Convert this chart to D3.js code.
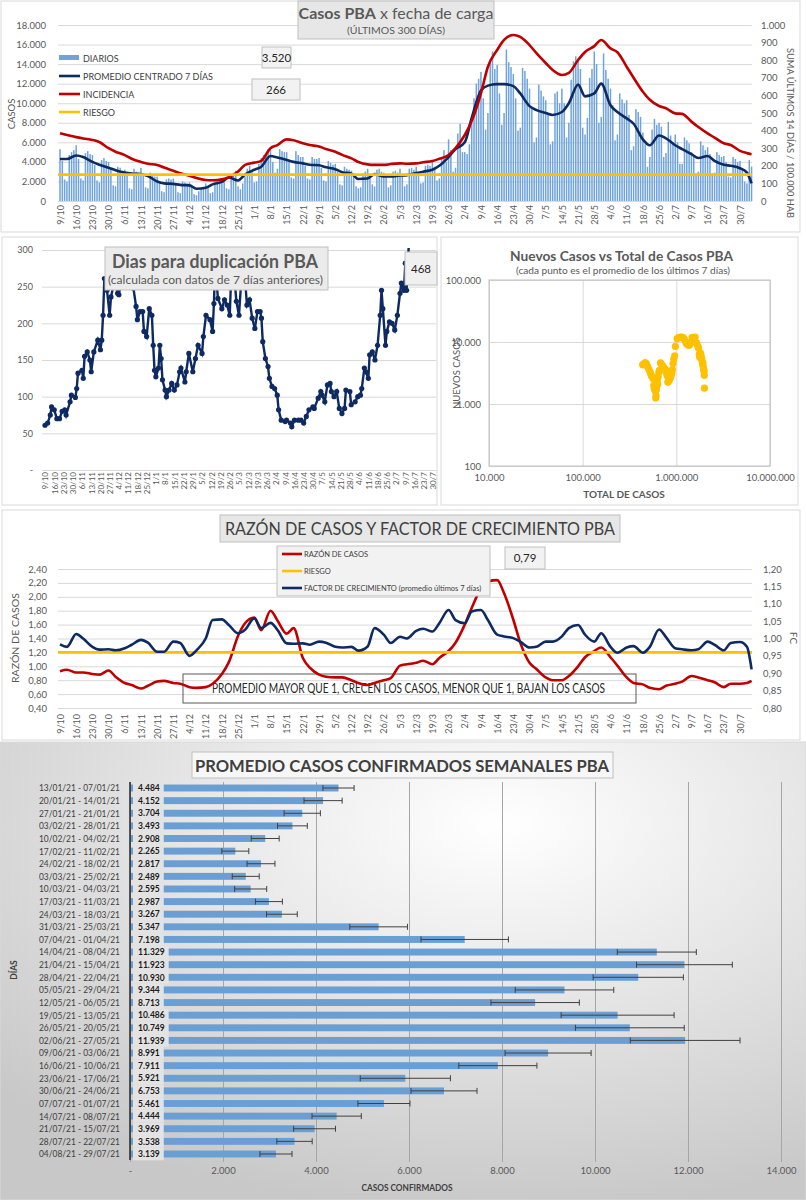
<!DOCTYPE html>
<html>
<head>
<meta charset="utf-8">
<script src="https://cdn.jsdelivr.net/npm/d3@7"></script>
<style>
  body { margin: 0; background: #fff; }
  svg { display: block; font-family: Lato, "Open Sans", sans-serif; }
</style>
</head>
<body>
<svg id="chart" width="806" height="1200"></svg>
<script>
"use strict";

// Weekly tick labels shared by the daily charts (one every 7 days from 9/10)
const weekLabels = ["9/10", "16/10", "23/10", "30/10", "6/11", "13/11", "20/11", "27/11", "4/12", "11/12",
    "18/12", "25/12", "1/1", "8/1", "15/1", "22/1", "29/1", "5/2", "12/2", "19/2", "26/2", "5/3", "12/3",
    "19/3", "26/3", "2/4", "9/4", "16/4", "23/4", "30/4", "7/5", "14/5", "21/5", "28/5", "4/6", "11/6",
    "18/6", "25/6", "2/7", "9/7", "16/7", "23/7", "30/7"];

// Daily cases (DIARIOS), 9/10/20 .. 4/8/21
const dailyCases = [
    5300, 4100, 2200, 2000, 4700, 5000, 5200, 5700, 4300, 2300, 2100, 4900, 5100, 4800,
    4700, 3700, 2100, 1900, 4200, 4400, 4100, 4000, 3200, 1600, 1500, 3500, 3400, 3100,
    3200, 2700, 1300, 1200, 3300, 3000, 2900, 3400, 2600, 1400, 1300, 2900, 2700, 2500,
    2500, 2000, 1000, 900, 2200, 2300, 2200, 2300, 1700, 900, 800, 2000, 1900, 1800,
    1900, 1500, 700, 600, 1000, 1300, 1400, 1800, 1500, 800, 900, 1900, 2000, 2100,
    2300, 1900, 1300, 1200, 2600, 2900, 3100, 1500, 1200, 1800, 2500, 3300, 3600, 3100,
    1900, 2000, 3800, 4400, 4700, 4700, 5300, 5200, 4000, 2900, 3300, 5300, 5100, 5000,
    5000, 4000, 2400, 2300, 5100, 4700, 4500, 4500, 3600, 2300, 2200, 4500, 4300, 4300,
    4400, 3400, 2100, 2000, 4100, 3900, 3700, 3800, 3000, 1700, 1600, 3500, 3300, 3200,
    3100, 2500, 1500, 1300, 1400, 2800, 3000, 3300, 2700, 1700, 1500, 3200, 3300, 3000,
    2900, 2400, 1400, 1600, 3000, 3100, 2900, 3300, 2600, 1500, 1700, 3300, 3400, 3200,
    3500, 2900, 1800, 1900, 3600, 3700, 3600, 4100, 3500, 2100, 2300, 4500, 5200, 4000,
    6300, 5200, 3000, 3400, 6900, 7900, 5000, 5000, 4800, 5800, 8000, 10500, 12000, 12500,
    13200, 10500, 7300, 9000, 14300, 15300, 13500, 13900, 11000, 7800, 9000, 15500, 14200, 13700,
    13000, 10500, 7200, 7500, 13600, 13300, 12500, 11500, 9500, 6000, 6500, 11900, 11300, 10700,
    10300, 9000, 5800, 6100, 11000, 11200, 10000, 11500, 10000, 6500, 8000, 12400, 14300, 14800,
    14300, 13500, 7500, 6800, 8500, 12600, 13500, 15300, 14000, 8000, 8600, 15100, 13400, 12500,
    11500, 9800, 6200, 6800, 11000, 10400, 10000, 10300, 8800, 5200, 5600, 9400, 9100, 8600,
    7000, 5800, 3500, 4500, 7300, 8400, 7800, 8000, 7600, 4500, 4900, 8100, 6700, 6000,
    6800, 6000, 3800, 3800, 6500, 6200, 5900, 5000, 4500, 2800, 3000, 6100, 5700, 5200,
    5500, 4800, 2800, 2900, 5000, 4700, 4500, 4600, 4000, 2500, 2400, 4500, 4300, 4000,
    4100, 3200, 2000, 1800, 4200, 3520];

// Days (counted from 9/10) at which the smooth series were read
const sampleDays = [0, 3, 7, 10, 14, 17, 21, 24, 28, 31, 35, 38, 42, 45, 49, 52, 56, 59, 63, 66, 70, 73,
    77, 80, 84, 87, 91, 94, 98, 101, 105, 108, 112, 115, 119, 122, 126, 129, 133, 136, 140, 143, 147, 150,
    154, 157, 161, 164, 168, 171, 175, 178, 182, 185, 189, 192, 196, 199, 203, 206, 210, 213, 217, 220,
    224, 227, 231, 234, 238, 241, 245, 248, 252, 255, 259, 262, 266, 269, 273, 276, 280, 283, 287, 290,
    294, 297, 299];

// PROMEDIO CENTRADO 7 DÍAS
const avg7 = [4300, 4300, 4650, 4500, 4000, 3700, 3400, 3150, 2900, 2800, 2750, 2550, 2000, 1800, 1750,
    1650, 1600, 1250, 1350, 1700, 1950, 2400, 2100, 2700, 3200, 3500, 4600, 4450, 4200, 4000, 3850, 3700,
    3650, 3450, 3250, 2950, 2800, 2250, 2300, 2750, 2500, 2500, 2600, 2650, 2850, 3000, 3200, 3600, 4500,
    5300, 6000, 8500, 11300, 11800, 11950, 11950, 11750, 11000, 9700, 9300, 9000, 8800, 9100, 10000, 11900,
    10700, 11000, 12000, 9800, 9100, 8450, 7900, 6300, 5700, 6700, 6400, 5700, 5300, 4800, 4400, 4600,
    4100, 3700, 3600, 3350, 2900, 1800];

// INCIDENCIA (suma últimos 14 días / 100.000 hab)
const incidence = [385, 375, 363, 355, 347, 335, 300, 280, 261, 240, 222, 212, 205, 190, 172, 158, 144,
    130, 119, 118, 123, 135, 167, 205, 218, 228, 300, 318, 350, 345, 328, 318, 310, 295, 280, 262, 242,
    222, 208, 205, 205, 210, 214, 212, 214, 220, 227, 240, 261, 300, 375, 455, 612, 763, 858, 915, 943,
    932, 886, 840, 784, 744, 716, 728, 801, 847, 880, 915, 867, 845, 763, 700, 621, 575, 540, 527, 498,
    495, 451, 420, 384, 360, 328, 318, 285, 272, 266];
const riskIncidence = 150;

// RAZÓN DE CASOS and FACTOR DE CRECIMIENTO
const caseRatio = [0.93, 0.95, 0.91, 0.91, 0.89, 0.88, 0.94, 0.85, 0.76, 0.73, 0.68, 0.72, 0.78, 0.79,
    0.76, 0.75, 0.70, 0.69, 0.70, 0.75, 0.89, 1.06, 1.44, 1.62, 1.70, 1.52, 1.80, 1.66, 1.47, 1.55, 1.12,
    0.98, 0.88, 0.85, 0.84, 0.84, 0.80, 0.76, 0.73, 0.76, 0.80, 0.83, 1.01, 1.03, 1.05, 1.08, 1.03, 1.12,
    1.22, 1.34, 1.60, 1.84, 2.12, 2.22, 2.24, 2.05, 1.67, 1.34, 1.05, 0.96, 0.84, 0.80, 0.80, 0.86, 1.00,
    1.13, 1.22, 1.27, 1.13, 1.01, 0.84, 0.76, 0.74, 0.69, 0.67, 0.72, 0.75, 0.78, 0.86, 0.84, 0.80, 0.77,
    0.70, 0.75, 0.75, 0.76, 0.79];
const growthFactor = [0.983, 0.976, 1.013, 1.000, 0.976, 0.968, 0.969, 0.966, 0.972, 0.982, 0.996, 0.988,
    0.962, 0.962, 0.991, 0.987, 0.950, 0.966, 1.000, 1.053, 1.055, 1.039, 1.015, 1.025, 1.058, 1.030,
    1.045, 1.025, 0.986, 0.985, 0.986, 0.982, 0.991, 0.988, 0.976, 0.974, 0.976, 0.965, 0.977, 1.030,
    1.011, 0.987, 1.005, 1.000, 1.022, 1.028, 1.020, 1.044, 1.082, 1.053, 1.044, 1.078, 1.082, 1.053,
    1.011, 1.006, 1.001, 0.991, 0.974, 0.976, 0.991, 0.991, 1.006, 1.030, 1.039, 1.011, 0.991, 1.015,
    0.976, 0.959, 0.974, 0.978, 0.959, 0.976, 1.026, 1.004, 0.972, 0.969, 0.966, 0.969, 0.991, 0.982,
    0.966, 0.987, 0.990, 0.976, 0.911];
const riskRatio = 1.2;

// TOTAL DE CASOS at the sample days (x of the log-log scatter; y is avg7)
const totalCases = [437000, 448600, 465500, 477800, 494700, 505200, 519800, 528600, 540100, 547300,
    557700, 565100, 574500, 580000, 587600, 592500, 599000, 603100, 607400, 611500, 618400, 623900,
    633700, 638200, 650700, 658400, 677500, 689600, 708300, 719700, 736300, 746700, 762000, 771900,
    785600, 794100, 805700, 812800, 821300, 829000, 840000, 846700, 857300, 864700, 876300, 884500,
    897300, 907000, 923000, 937500, 960700, 976300, 1019300, 1050300, 1102400, 1135100, 1187500,
    1218200, 1265100, 1292100, 1332500, 1357600, 1395900, 1423900, 1473400, 1508700, 1550100,
    1587400, 1637000, 1664500, 1702700, 1727000, 1759700, 1776000, 1804000, 1824100, 1849800,
    1866400, 1888800, 1901100, 1921100, 1934200, 1951300, 1962400, 1977600, 1986900, 1996400];

// Días para duplicación (day index, value)
const dupDays = [0, 2, 4, 5, 7, 9, 11, 13, 15, 16, 19, 20, 23, 24, 25, 28, 29, 30, 32, 34, 35, 37, 40, 42,
    43, 44, 45, 47, 49, 50, 53, 55, 56, 58, 60, 62, 64, 66, 67, 69, 70, 72, 74, 75, 77, 79, 81, 82, 83, 84,
    86, 87, 88, 89, 91, 92, 94, 96, 98, 100, 102, 103, 106, 107, 109, 112, 114, 116, 119, 120, 122, 125,
    127, 128, 129, 131, 134, 136, 138, 140, 141, 143, 145, 147, 149, 151, 153, 155, 157, 159, 161, 163,
    164, 165, 167, 169, 170, 172, 174, 176, 177, 179, 182, 183, 186, 187, 189, 192, 194, 196, 198, 200,
    203, 204, 207, 209, 210, 212, 214, 216, 217, 219, 221, 223, 225, 227, 228, 231, 232, 235, 237, 239,
    240, 242, 243, 245, 246, 248, 250, 252, 254, 255, 256, 258, 259, 261, 263, 265, 267, 269, 270, 272,
    273, 274, 276, 299];
const dupValues = [61, 64, 75, 86, 82, 70, 70, 80, 82, 75, 93, 102, 99, 111, 132, 136, 125, 155, 161,
    150, 134, 161, 177, 164, 177, 211, 261, 245, 211, 236, 261, 241, 239, 262, 280, 295, 275, 262, 248,
    223, 205, 216, 216, 189, 182, 220, 211, 170, 136, 127, 139, 170, 152, 123, 109, 100, 109, 118, 109,
    116, 134, 139, 120, 134, 159, 134, 152, 170, 159, 182, 211, 205, 189, 227, 284, 234, 220, 232, 225,
    211, 261, 275, 230, 211, 266, 275, 225, 232, 207, 193, 216, 216, 207, 175, 152, 141, 125, 114, 111,
    102, 82, 68, 66, 68, 64, 59, 68, 68, 68, 64, 73, 82, 86, 84, 98, 107, 102, 93, 116, 118, 107, 100,
    107, 84, 77, 84, 109, 107, 89, 93, 100, 102, 111, 139, 134, 125, 157, 161, 150, 170, 211, 245, 220,
    170, 189, 202, 200, 191, 211, 241, 255, 245, 282, 245, 320, 468];

// Weekly averages with error bars
const weekRanges = ["13/01/21 - 07/01/21", "20/01/21 - 14/01/21", "27/01/21 - 21/01/21",
    "03/02/21 - 28/01/21", "10/02/21 - 04/02/21", "17/02/21 - 11/02/21", "24/02/21 - 18/02/21",
    "03/03/21 - 25/02/21", "10/03/21 - 04/03/21", "17/03/21 - 11/03/21", "24/03/21 - 18/03/21",
    "31/03/21 - 25/03/21", "07/04/21 - 01/04/21", "14/04/21 - 08/04/21", "21/04/21 - 15/04/21",
    "28/04/21 - 22/04/21", "05/05/21 - 29/04/21", "12/05/21 - 06/05/21", "19/05/21 - 13/05/21",
    "26/05/21 - 20/05/21", "02/06/21 - 27/05/21", "09/06/21 - 03/06/21", "16/06/21 - 10/06/21",
    "23/06/21 - 17/06/21", "30/06/21 - 24/06/21", "07/07/21 - 01/07/21", "14/07/21 - 08/07/21",
    "21/07/21 - 15/07/21", "28/07/21 - 22/07/21", "04/08/21 - 29/07/21"];
const weekAvg = [4484, 4152, 3704, 3493, 2908, 2265, 2817, 2489, 2595, 2987, 3267, 5347, 7198, 11329,
    11923, 10930, 9344, 8713, 10486, 10749, 11939, 8991, 7911, 5921, 6753, 5461, 4444, 3969, 3538, 3139];
const weekErr = [335, 410, 390, 320, 300, 290, 300, 290, 345, 290, 330, 620, 940, 850, 1030, 970, 1060,
    950, 1215, 1170, 1180, 925, 840, 970, 710, 560, 530, 450, 380, 345];

const svg = d3.select("#chart");
const FONT = "Lato, 'Open Sans', sans-serif";
const es = d3.formatLocale({decimal: ",", thousands: ".", grouping: [3], currency: ["$", ""]});
const fmtInt = es.format(",.0f");
const fmt2 = es.format(".2f");
const NAVY = "#0E2A63", RED = "#C00000", GOLD = "#FFC000", BLUE = "#6FA3DA", GRID = "#d9d9d9";
const weekDays = d3.range(0, 295, 7);

function panel(x, y, w, h, fill = "#fff") {
    svg.append("rect").attr("x", x).attr("y", y).attr("width", w).attr("height", h)
        .attr("fill", fill).attr("stroke", "#d9d9d9");
}

function box(g, x, y, w, h, fill, stroke = "#bfbfbf") {
    return g.append("rect").attr("x", x).attr("y", y).attr("width", w).attr("height", h)
        .attr("fill", fill).attr("stroke", stroke);
}

function label(g, x, y, text, size, o = {}) {
    const t = g.append("text").attr("x", x).attr("y", y).text(text)
        .attr("font-size", size).attr("fill", o.fill || "#595959")
        .attr("font-weight", o.weight || "normal")
        .attr("text-anchor", o.anchor || "start");
    if (o.rotate) t.attr("transform", `rotate(${o.rotate},${x},${y})`);
    if (o.width) {
        const w = t.node().getComputedTextLength();
        if (Math.abs(w - o.width) > 2) t.attr("textLength", o.width).attr("lengthAdjust", "spacingAndGlyphs");
    }
    return t;
}

function styleAxis(g, size) {
    g.attr("font-family", FONT);
    g.select(".domain").remove();
    g.selectAll(".tick line").attr("stroke", GRID);
    g.selectAll(".tick text").attr("fill", "#595959").attr("font-size", size);
}

function rotateLabels(g, offset) {
    g.selectAll(".tick text").attr("transform", "rotate(-90)").attr("text-anchor", "end")
        .attr("x", -offset).attr("y", 0).attr("dy", "0.35em");
}

// ---------- Casos PBA x fecha de carga ----------
panel(1, 1, 799, 231);
const p1 = svg.append("g");
const topX = d3.scaleLinear().domain([0, 294]).range([60, 740]);
const topY = d3.scaleLinear().domain([0, 18000]).range([201, 25]);
const topY2 = d3.scaleLinear().domain([0, 1000]).range([201, 25]);

p1.append("g").attr("transform", "translate(58,0)")
    .call(d3.axisLeft(topY).tickValues(d3.range(0, 18001, 2000)).tickSize(-694).tickPadding(12).tickFormat(fmtInt))
    .call(styleAxis, 9.5);
p1.append("g").attr("transform", "translate(752,0)")
    .call(d3.axisRight(topY2).tickValues(d3.range(0, 1001, 100)).tickSize(0).tickPadding(9).tickFormat(fmtInt))
    .call(styleAxis, 9.5);
p1.append("g").attr("transform", "translate(0,201)")
    .call(d3.axisBottom(topX).tickValues(weekDays).tickSize(0).tickFormat((d, i) => weekLabels[i]))
    .call(styleAxis, 9)
    .call(rotateLabels, 4);

p1.append("g").selectAll("rect").data(dailyCases).join("rect")
    .attr("x", (d, i) => topX(i) - 0.75).attr("width", 1.5)
    .attr("y", d => topY(d)).attr("height", d => topY(0) - topY(d))
    .attr("fill", BLUE);

const topLine = d3.line().x((d, i) => topX(sampleDays[i])).curve(d3.curveMonotoneX);
p1.append("path").attr("d", topLine.y(d => topY(d))(avg7))
    .attr("fill", "none").attr("stroke", NAVY).attr("stroke-width", 2.6);
p1.append("path").attr("d", topLine.y(d => topY2(d))(incidence))
    .attr("fill", "none").attr("stroke", RED).attr("stroke-width", 2.6);
p1.append("line").attr("x1", 58).attr("x2", 752)
    .attr("y1", topY2(riskIncidence)).attr("y2", topY2(riskIncidence))
    .attr("stroke", GOLD).attr("stroke-width", 2.6);

label(p1, 15, 114, "CASOS", 9.5, {rotate: -90, anchor: "middle"});
label(p1, 787, 133, "SUMA ÚLTIMOS 14 DÍAS / 100.000 HAB", 9.5, {rotate: 90, anchor: "middle", width: 170});

const topLegend = [
    {name: "DIARIOS", color: BLUE, bar: true},
    {name: "PROMEDIO CENTRADO 7 DÍAS", color: NAVY},
    {name: "INCIDENCIA", color: RED},
    {name: "RIESGO", color: GOLD}];
topLegend.forEach((item, i) => {
    const y = 58 + i * 18;
    if (item.bar) box(p1, 59, y - 3, 20, 5, item.color, "none");
    else p1.append("line").attr("x1", 59).attr("x2", 80).attr("y1", y).attr("y2", y)
        .attr("stroke", item.color).attr("stroke-width", 2.6);
    label(p1, 83, y + 3.5, item.name, 9, {fill: "#404040"});
});

box(p1, 262, 47, 29, 21, "#f2f2f2");
label(p1, 276.5, 62, fmtInt(dailyCases[dailyCases.length - 1]), 11.5, {anchor: "middle", fill: "#262626"});
box(p1, 252, 79, 48, 21, "#f2f2f2");
label(p1, 276, 94, fmtInt(incidence[incidence.length - 1]), 11.5, {anchor: "middle", fill: "#262626"});

box(p1, 298, 1, 196, 38, "#e7e7e7");
const t1 = p1.append("text").attr("x", 396).attr("y", 19).attr("text-anchor", "middle")
    .attr("font-size", 16).attr("fill", "#595959");
t1.append("tspan").attr("font-weight", "bold").text("Casos PBA");
t1.append("tspan").text(" x fecha de carga");
label(p1, 396, 34, "(ÚLTIMOS 300 DÍAS)", 9.5, {anchor: "middle", width: 98});

// ---------- Dias para duplicación PBA ----------
panel(2, 237, 435, 268);
const p2 = svg.append("g");
const dupX = d3.scaleLinear().domain([0, 294]).range([45, 433]);
const dupY = d3.scaleLinear().domain([0, 300]).range([470, 250]);

p2.append("g").attr("transform", "translate(42,0)")
    .call(d3.axisLeft(dupY).tickValues(d3.range(0, 301, 50)).tickSize(-394).tickPadding(9)
        .tickFormat(d => d === 0 ? "-" : fmtInt(d)))
    .call(styleAxis, 9);
p2.append("g").attr("transform", "translate(0,470)")
    .call(d3.axisBottom(dupX).tickValues(weekDays).tickSize(0).tickFormat((d, i) => weekLabels[i]))
    .call(styleAxis, 8)
    .call(rotateLabels, 2);

svg.append("defs").append("clipPath").attr("id", "dupClip")
    .append("rect").attr("x", 42).attr("y", 248).attr("width", 395).attr("height", 224);
const dupG = p2.append("g").attr("clip-path", "url(#dupClip)");
dupG.append("path")
    .attr("d", d3.line().x((d, i) => dupX(dupDays[i])).y(d => dupY(d))(dupValues))
    .attr("fill", "none").attr("stroke", NAVY).attr("stroke-width", 2.4);
dupG.selectAll("circle").data(dupValues).join("circle")
    .attr("cx", (d, i) => dupX(dupDays[i])).attr("cy", d => dupY(d)).attr("r", 2.6)
    .attr("fill", NAVY);

box(p2, 105, 247, 223, 43, "#ebebeb");
label(p2, 215, 268, "Dias para duplicación PBA", 18, {anchor: "middle", weight: "bold", width: 206});
label(p2, 215.5, 284, "(calculada con datos de 7 días anteriores)", 11, {anchor: "middle", width: 215});
box(p2, 405, 252, 32, 33, "#f0f0f0");
label(p2, 421, 273, fmtInt(dupValues[dupValues.length - 1]), 11.5, {anchor: "middle", fill: "#262626"});

// ---------- Nuevos Casos vs Total de Casos PBA ----------
panel(441, 237, 357, 268);
const p3 = svg.append("g");
const scX = d3.scaleLog().domain([1e4, 1e7]).range([489, 770]);
const scY = d3.scaleLog().domain([100, 1e5]).range([466, 280]);

p3.append("g").attr("transform", "translate(0,466)")
    .call(d3.axisBottom(scX).tickValues([1e4, 1e5, 1e6, 1e7]).tickSize(-186).tickPadding(8).tickFormat(fmtInt))
    .call(styleAxis, 9.5);
p3.append("g").attr("transform", "translate(489,0)")
    .call(d3.axisLeft(scY).tickValues([100, 1e3, 1e4, 1e5]).tickSize(-281).tickPadding(8).tickFormat(fmtInt))
    .call(styleAxis, 9.5);
p3.append("rect").attr("x", 489).attr("y", 280).attr("width", 281).attr("height", 186)
    .attr("fill", "none").attr("stroke", "#bfbfbf");

p3.append("g").selectAll("circle").data(avg7).join("circle")
    .attr("cx", (d, i) => scX(totalCases[i])).attr("cy", d => scY(d)).attr("r", 3.6)
    .attr("fill", GOLD);

label(p3, 621.5, 261, "Nuevos Casos vs Total de Casos PBA", 14, {anchor: "middle", weight: "bold", width: 223});
label(p3, 623, 274, "(cada punto es el promedio de los últimos 7 días)", 9, {anchor: "middle", width: 214});
label(p3, 624, 498, "TOTAL DE CASOS", 10, {anchor: "middle", weight: "bold", width: 82});
label(p3, 460, 373, "NUEVOS  CASOS", 10, {anchor: "middle", rotate: -90, width: 72});

// ---------- Razón de casos y factor de crecimiento ----------
panel(2, 510, 798, 230);
const p4 = svg.append("g");
const rX = d3.scaleLinear().domain([0, 294]).range([60, 740]);
const rY = d3.scaleLinear().domain([0.4, 2.4]).range([708, 569]);
const fcY = d3.scaleLinear().domain([0.8, 1.2]).range([708, 569]);

p4.append("g").attr("transform", "translate(58,0)")
    .call(d3.axisLeft(rY).tickValues(d3.range(0.4, 2.41, 0.2)).tickSize(-694).tickPadding(11).tickFormat(fmt2))
    .call(styleAxis, 9.5);
p4.append("g").attr("transform", "translate(752,0)")
    .call(d3.axisRight(fcY).tickValues(d3.range(0.8, 1.201, 0.05)).tickSize(0).tickPadding(11).tickFormat(fmt2))
    .call(styleAxis, 9.5);
p4.append("g").attr("transform", "translate(0,708)")
    .call(d3.axisBottom(rX).tickValues(weekDays).tickSize(0).tickFormat((d, i) => weekLabels[i]))
    .call(styleAxis, 9)
    .call(rotateLabels, 6);

box(p4, 183, 674, 453, 29, "none", "#595959");
label(p4, 408.5, 693, "PROMEDIO MAYOR QUE 1, CRECEN LOS CASOS, MENOR QUE 1, BAJAN LOS CASOS", 12.5,
    {anchor: "middle", fill: "#262626", width: 393});

const rLine = d3.line().x((d, i) => rX(sampleDays[i])).curve(d3.curveMonotoneX);
p4.append("path").attr("d", rLine.y(d => rY(d))(caseRatio))
    .attr("fill", "none").attr("stroke", RED).attr("stroke-width", 2.6);
p4.append("line").attr("x1", 58).attr("x2", 752).attr("y1", rY(riskRatio)).attr("y2", rY(riskRatio))
    .attr("stroke", GOLD).attr("stroke-width", 2.6);
p4.append("path").attr("d", rLine.y(d => fcY(d))(growthFactor))
    .attr("fill", "none").attr("stroke", NAVY).attr("stroke-width", 2.6);

label(p4, 19, 638, "RAZÓN DE CASOS", 10, {anchor: "middle", rotate: -90, width: 90});
label(p4, 790, 638, "FC", 10, {anchor: "middle", rotate: 90});

box(p4, 220, 515, 400, 27, "#e7e7e7");
label(p4, 420, 535, "RAZÓN DE CASOS Y FACTOR DE CRECIMIENTO PBA", 17, {anchor: "middle", fill: "#404040", width: 390});

box(p4, 277, 546, 213, 50, "#f2f2f2");
const rLegend = [
    {name: "RAZÓN DE CASOS", color: RED},
    {name: "RIESGO", color: GOLD},
    {name: "FACTOR DE CRECIMIENTO (promedio últimos 7 días)", color: NAVY}];
rLegend.forEach((item, i) => {
    const y = 554 + i * 17;
    p4.append("line").attr("x1", 282).attr("x2", 302).attr("y1", y).attr("y2", y)
        .attr("stroke", item.color).attr("stroke-width", 2.6);
    label(p4, 304, y + 3, item.name, 7.5, {fill: "#404040"});
});
box(p4, 505, 547, 40, 22, "#f2f2f2");
label(p4, 525, 562, fmt2(caseRatio[caseRatio.length - 1]), 11.5, {anchor: "middle", fill: "#262626"});

// ---------- Promedio casos confirmados semanales ----------
const grad = svg.select("defs").append("radialGradient").attr("id", "bgGrad")
    .attr("cx", "62%").attr("cy", "18%").attr("r", "85%");
grad.append("stop").attr("offset", "0%").attr("stop-color", "#ffffff");
grad.append("stop").attr("offset", "100%").attr("stop-color", "#c8c8c8");
panel(0, 742, 806, 458, "url(#bgGrad)");
const p5 = svg.append("g");
const bX = d3.scaleLinear().domain([0, 14000]).range([130, 781]);
const bY = d3.scaleBand().domain(d3.range(weekRanges.length)).range([781.7, 1160.3])
    .paddingInner(0.45).paddingOuter(0.225);

p5.append("g").attr("transform", "translate(0,1162)")
    .call(d3.axisBottom(bX).tickValues(d3.range(0, 14001, 2000)).tickSize(-380).tickPadding(5)
        .tickFormat(d => d === 0 ? "-" : fmtInt(d)))
    .call(styleAxis, 9.5)
    .call(g => g.selectAll(".tick line").attr("stroke", "#a6a6a6"));

p5.append("g").selectAll("rect").data(weekAvg).join("rect")
    .attr("x", bX(0)).attr("y", (d, i) => bY(i))
    .attr("width", d => bX(d) - bX(0)).attr("height", bY.bandwidth())
    .attr("fill", "#6A9FD6");

const errG = p5.append("g").attr("stroke", "#404040").attr("stroke-width", 1);
weekAvg.forEach((v, i) => {
    const cy = bY(i) + bY.bandwidth() / 2;
    const x0 = bX(v - weekErr[i]), x1 = bX(v + weekErr[i]);
    errG.append("line").attr("x1", x0).attr("x2", x1).attr("y1", cy).attr("y2", cy);
    errG.append("line").attr("x1", x0).attr("x2", x0).attr("y1", cy - 3).attr("y2", cy + 3);
    errG.append("line").attr("x1", x1).attr("x2", x1).attr("y1", cy - 3).attr("y2", cy + 3);
});

const valG = p5.append("g");
weekAvg.forEach((v, i) => {
    const cy = bY(i) + bY.bandwidth() / 2;
    const bg = valG.append("rect").attr("x", 133).attr("y", cy - bY.step() / 2)
        .attr("height", bY.step()).attr("fill", "#e3e3e3");
    const t = label(valG, 138, cy + 3.2, fmtInt(v), 8.5, {weight: "bold", fill: "#1a1a1a"});
    bg.attr("width", t.node().getComputedTextLength() + 9);
    label(p5, 120, cy + 3.4, weekRanges[i], 9.5, {anchor: "end", fill: "#404040", width: 81});
});

p5.append("line").attr("x1", 130).attr("x2", 130).attr("y1", 782).attr("y2", 1160)
    .attr("stroke", "#262626").attr("stroke-width", 1.5);

box(p5, 192, 752, 421, 26, "#f7f7f7");
label(p5, 402, 772, "PROMEDIO CASOS CONFIRMADOS SEMANALES PBA", 17, {anchor: "middle", weight: "bold", fill: "#404040", width: 414});
label(p5, 407, 1191, "CASOS CONFIRMADOS", 9.5, {anchor: "middle", weight: "bold", fill: "#404040", width: 91});
label(p5, 17, 970, "DÍAS", 8.5, {anchor: "middle", weight: "bold", fill: "#404040", rotate: -90});
</script>
</body>
</html>
